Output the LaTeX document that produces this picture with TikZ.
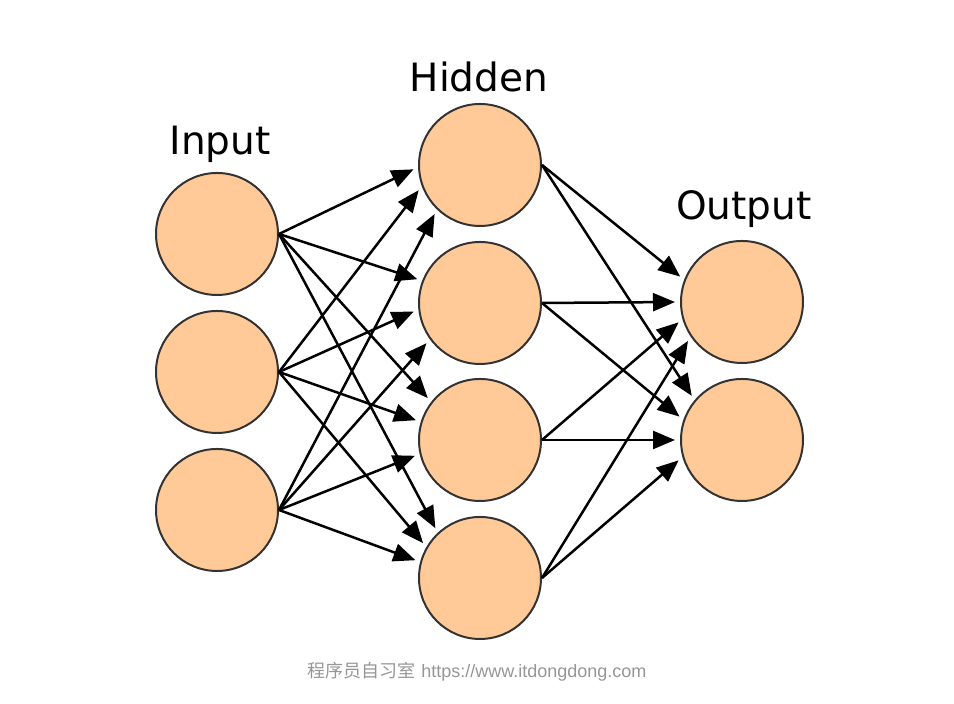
\documentclass[tikz,border=0pt]{standalone}
\usepackage{fontspec}
\setmainfont{DejaVu Sans}
\newfontfamily\cjkfont{Noto Sans CJK SC}
\newfontfamily\urlfont{Liberation Sans}
\usetikzlibrary{arrows.meta}
\usetikzlibrary{positioning}
\definecolor{neuronfill}{RGB}{255,202,152}
\definecolor{wmgray}{RGB}{150,150,150}

\begin{document}
\begin{tikzpicture}[x=0.5pt,y=0.5pt,
    neuron/.style={circle, draw=black!80, line width=1pt, fill=neuronfill, minimum size=61pt, inner sep=0pt},
    layer/.style={anchor=base, font=\fontsize{19.5}{23}\selectfont},
    link/.style={line width=1.25pt, -{Triangle[length=11pt,width=9pt]}, shorten >=2.5pt}]
    \useasboundingbox (0,0) rectangle (954,704);
    % input layer
    \foreach \i/\y in {1/470,2/332,3/194}
        \node[neuron] (in\i) at (217,\y) {};
    % hidden layer
    \foreach \i/\y in {1/539,2/401,3/264,4/126}
        \node[neuron] (hid\i) at (480,\y) {};
    % output layer
    \foreach \i/\y in {1/402,2/264}
        \node[neuron] (out\i) at (742,\y) {};
    % layer names
    \node[layer] (inlabel) at (220,549) {Input};
    \node[layer] (hidlabel) at (479,612) {Hidden};
    \node[layer] (outlabel) at (744,484) {Output};
    % input -> hidden
    \foreach \i/\j/\a in {1/1/182, 2/1/200, 3/1/226, 1/2/159, 2/2/186, 3/2/216,
                          1/3/142, 2/3/163, 3/3/193, 1/4/133, 2/4/150, 3/4/165}
        \draw[link] (in\i.east) -- (hid\j.\a);
    % hidden -> output
    \foreach \i/\j/\a in {1/1/159, 2/1/180, 3/1/196, 4/1/214,
                          1/2/140, 2/2/161, 3/2/180, 4/2/196}
        \draw[link] (hid\i.east) -- (out\j.\a);
    % watermark
    \node[anchor=base, text=wmgray, font=\fontsize{9}{11}\selectfont] (wm) at (477,26)
        {{\cjkfont 程序员自习室} {\urlfont https://www.itdongdong.com}};
\end{tikzpicture}
\end{document}
